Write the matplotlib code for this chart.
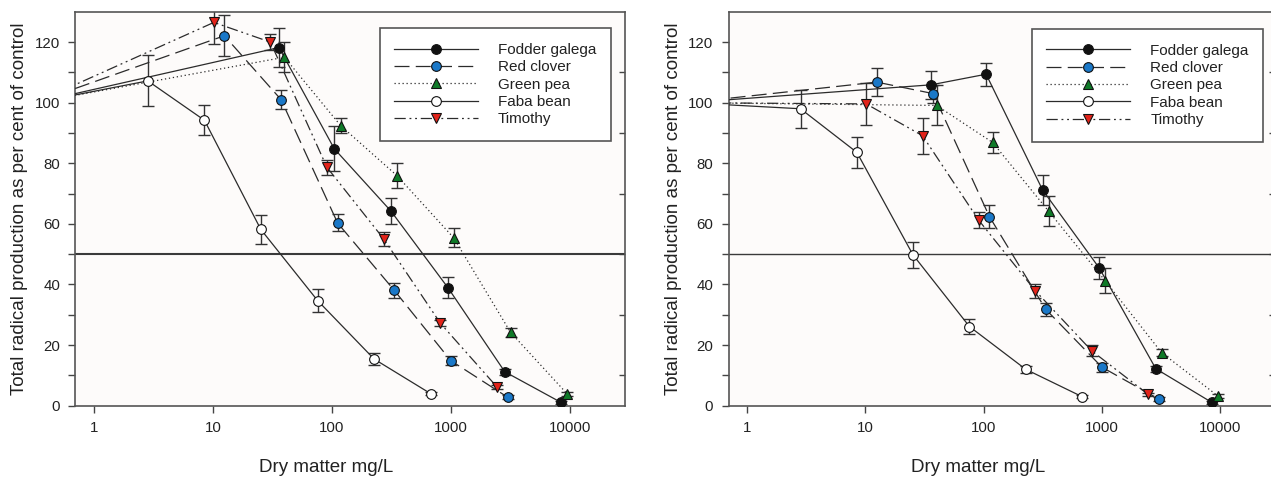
import matplotlib
matplotlib.use("Agg")
import matplotlib.pyplot as plt

plt.rcParams['font.family'] = ['Liberation Sans', 'DejaVu Sans']

# control point (lies left of the visible x range)
control_x = 0.32
control_y = 100.0

# doses, mg/L dry matter (same in both panels)
galega_x = [36, 105, 315, 950, 2850, 8450]
redclover_x = [12.5, 37.5, 112, 335, 1000, 3010]
greenpea_x = [40, 119, 354, 1060, 3190, 9540]
faba_x = [2.84, 8.5, 25.3, 76, 227, 677]
timothy_x = [10.2, 30.5, 91, 274, 820, 2460]

# left panel
galega_a = [118.2, 84.8, 64.2, 38.9, 11.2, 1.1]
galega_a_err = [6.5, 7.5, 4.2, 3.5, 1.0, 0.6]
redclover_a = [122.1, 101.0, 60.3, 38.1, 14.9, 2.8]
redclover_a_err = [6.8, 3.2, 2.8, 2.5, 1.5, 0.6]
greenpea_a = [115.0, 92.4, 75.9, 55.4, 24.2, 3.9]
greenpea_a_err = [5.0, 2.5, 4.2, 3.1, 1.6, 0.6]
faba_a = [107.2, 94.2, 58.2, 34.7, 15.4, 4.0]
faba_a_err = [8.4, 5.0, 4.7, 3.7, 1.9, 0.5]
timothy_a = [126.5, 120.0, 78.7, 55.0, 27.2, 6.1]
timothy_a_err = [7.0, 2.6, 2.5, 2.2, 1.0, 0.6]

# right panel
galega_b = [105.9, 109.4, 71.2, 45.4, 12.2, 1.1]
galega_b_err = [4.6, 3.8, 5.1, 3.7, 1.0, 0.6]
redclover_b = [106.8, 103.0, 62.4, 31.8, 12.7, 2.2]
redclover_b_err = [4.7, 3.0, 3.7, 2.1, 1.5, 0.5]
greenpea_b = [99.1, 86.9, 64.2, 41.3, 17.5, 3.2]
greenpea_b_err = [6.6, 3.5, 4.9, 4.1, 1.2, 0.6]
faba_b = [98.0, 83.6, 49.8, 26.1, 12.0, 3.0]
faba_b_err = [6.2, 5.2, 4.2, 2.4, 1.2, 0.5]
timothy_b = [99.6, 89.1, 61.2, 37.9, 18.1, 3.7]
timothy_b_err = [6.8, 6.0, 2.7, 2.4, 1.8, 0.6]

names = ["Fodder galega", "Red clover", "Green pea", "Faba bean", "Timothy"]
xs = [galega_x, redclover_x, greenpea_x, faba_x, timothy_x]
markers = ['o', 'o', '^', 'o', 'v']
faces = ['#111111', '#1a78c8', '#0f7a28', '#ffffff', '#e2231a']
styles = ['-', (0, (12, 5)), (0, (1, 2.2)), '-', (0, (9, 3, 1.5, 3, 1.5, 3))]

line_col = '#2b2b2b'
bg = '#fdfbfa'


def draw_panel(ax, ys, errs, hline_lw):
    ax.set_facecolor(bg)
    ax.axhline(50, color='#3a3a3a', lw=hline_lw, zorder=1)
    for i in range(5):
        x = [control_x] + xs[i]
        y = [control_y] + ys[i]
        e = [0] + errs[i]
        ax.errorbar(x, y, yerr=e, fmt='none', ecolor='#333333',
                    elinewidth=1.0, capsize=4, capthick=1.0, zorder=2)
        ax.plot(x, y, color=line_col, lw=0.9, linestyle=styles[i],
                marker=markers[i], markersize=7.5 if markers[i] != 'o' else 7,
                markerfacecolor=faces[i], markeredgecolor='#111111',
                markeredgewidth=0.8, label=names[i], zorder=3)
    ax.set_xscale('log')
    ax.set_xlim(0.7, 29000)
    ax.set_ylim(0, 130)
    ax.set_xticks([1, 10, 100, 1000, 10000])
    ax.set_xticklabels(['1', '10', '100', '1000', '10000'])
    ax.xaxis.set_minor_locator(matplotlib.ticker.NullLocator())
    ax.set_yticks([0, 20, 40, 60, 80, 100, 120])
    ax.set_yticks([10, 30, 50, 70, 90, 110], minor=True)
    ax.tick_params(axis='both', which='major', labelsize=10.8, length=5,
                   width=1.0, color='#444444', labelcolor='#222222', pad=6)
    ax.tick_params(axis='y', which='minor', length=5, width=1.0, color='#444444')
    sec = ax.secondary_yaxis('right')
    sec.set_yticks([10, 30, 50, 70, 90, 110])
    sec.tick_params(direction='in', length=4, width=1.0, color='#444444',
                    labelright=False)
    sec.spines['right'].set_visible(False)
    for s in ax.spines.values():
        s.set_color('#555555')
        s.set_linewidth(1.2)
    ax.set_ylabel("Total radical production as per cent of control",
                  fontsize=13.5, color='#222222')
    ax.set_xlabel("Dry matter mg/L", fontsize=13.5, color='#222222')
    ax.xaxis.set_label_coords(0.456, -0.136)
    ax.yaxis.set_label_coords(-0.086, 0.5)


fig = plt.figure(figsize=(12.71, 4.78), dpi=100)
fig.patch.set_facecolor('#ffffff')

ax1 = fig.add_axes([0.0594, 0.1513, 0.432, 0.824])
ax2 = fig.add_axes([0.5732, 0.1513, 0.430, 0.824])

draw_panel(ax1, [galega_a, redclover_a, greenpea_a, faba_a, timothy_a],
           [galega_a_err, redclover_a_err, greenpea_a_err, faba_a_err, timothy_a_err], 1.5)
draw_panel(ax2, [galega_b, redclover_b, greenpea_b, faba_b, timothy_b],
           [galega_b_err, redclover_b_err, greenpea_b_err, faba_b_err, timothy_b_err], 1.0)

for ax, anchor in [(ax1, (0.975, 0.958)), (ax2, (0.978, 0.956))]:
    leg = ax.legend(loc='upper right', bbox_to_anchor=anchor, borderaxespad=0,
                    fontsize=11, handlelength=5.5, handletextpad=1.3,
                    labelspacing=0.22, borderpad=0.95, fancybox=False,
                    framealpha=1, edgecolor='#555555', numpoints=1)
    leg.get_frame().set_linewidth(1.2)
    leg.get_frame().set_facecolor('#ffffff')
    for t in leg.get_texts():
        t.set_color('#222222')

fig.savefig("out.png", dpi=100, facecolor=fig.get_facecolor())
